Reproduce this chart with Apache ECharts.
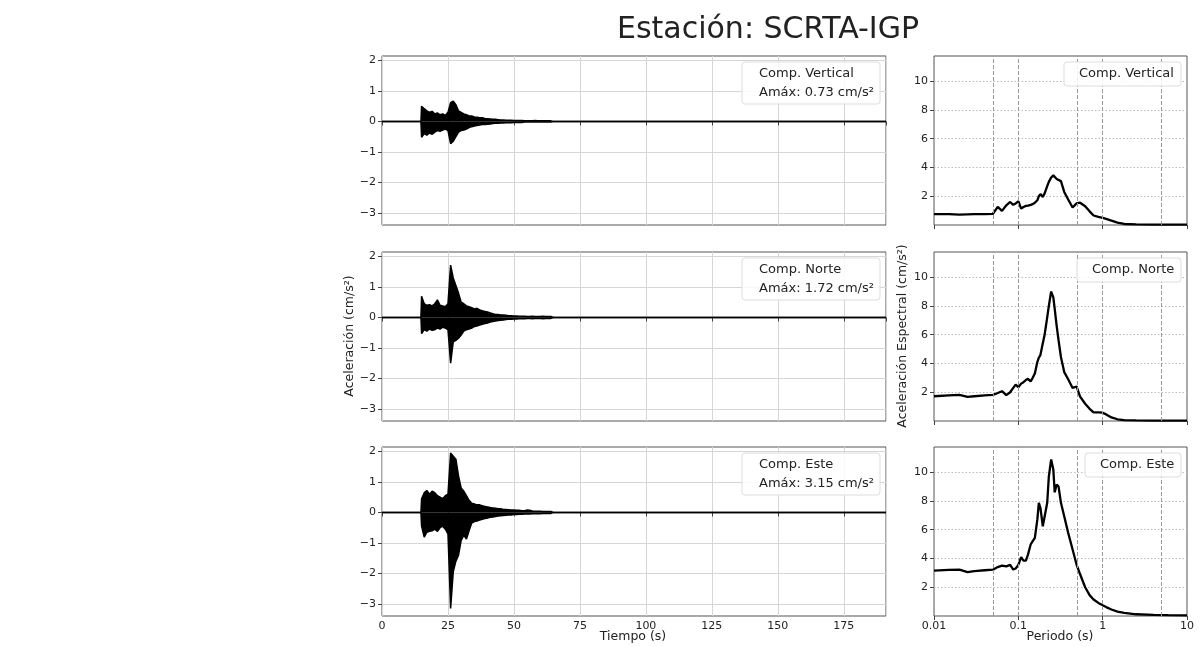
<!doctype html>
<html>
    <head>
        <meta charset="utf-8">
        <title>Estación SCRTA-IGP - ECHARTS</title>
        <style>
            html, body { margin: 0; padding: 0; background: #fff; }
            #main { width: 1200px; height: 647px; }
        </style>
    </head>
    <body>
        <div id="main"></div>
        <script src="https://cdn.jsdelivr.net/npm/echarts@6/dist/echarts.min.js"></script>
        <script>

            // --- registros de aceleracion: envolvente leida cada 1 s desde t = 15 s ---
            var T0 = 15;
            var STEP = 1;
            var T_END = 191;

            var vertUp = [0.50, 0.42, 0.35, 0.30, 0.33, 0.25, 0.28, 0.22, 0.25, 0.20,
                          0.30, 0.62, 0.67, 0.55, 0.35, 0.30, 0.25, 0.22, 0.18, 0.18,
                          0.15, 0.14, 0.12, 0.12, 0.10, 0.09, 0.08, 0.07, 0.07, 0.06,
                          0.05, 0.05, 0.04, 0.04, 0.04, 0.03, 0.03, 0.03, 0.03, 0.02,
                          0.02, 0.02, 0.02, 0.03, 0.02, 0.02, 0.02, 0.02, 0.02, 0.02];
            var vertDn = [-0.52, -0.40, -0.45, -0.38, -0.42, -0.35, -0.30, -0.32, -0.28, -0.25,
                          -0.30, -0.73, -0.65, -0.50, -0.35, -0.30, -0.28, -0.25, -0.20, -0.17,
                          -0.15, -0.13, -0.12, -0.10, -0.10, -0.09, -0.08, -0.07, -0.06, -0.06,
                          -0.05, -0.05, -0.04, -0.04, -0.04, -0.03, -0.03, -0.03, -0.03, -0.02,
                          -0.02, -0.02, -0.02, -0.02, -0.02, -0.02, -0.02, -0.02, -0.02, -0.02];

            var norteUp = [0.70, 0.45, 0.40, 0.42, 0.38, 0.45, 0.58, 0.40, 0.38, 0.35,
                           0.45, 1.72, 1.30, 1.05, 0.80, 0.50, 0.45, 0.38, 0.35, 0.32,
                           0.28, 0.30, 0.25, 0.22, 0.20, 0.18, 0.15, 0.12, 0.10, 0.10,
                           0.08, 0.08, 0.07, 0.06, 0.06, 0.05, 0.05, 0.04, 0.04, 0.04,
                           0.03, 0.03, 0.04, 0.03, 0.03, 0.03, 0.04, 0.03, 0.03, 0.03];
            var norteDn = [-0.53, -0.40, -0.45, -0.38, -0.42, -0.40, -0.35, -0.38, -0.32, -0.35,
                           -0.40, -1.50, -0.80, -0.75, -0.68, -0.58, -0.45, -0.40, -0.38, -0.35,
                           -0.30, -0.28, -0.25, -0.22, -0.20, -0.18, -0.15, -0.13, -0.12, -0.10,
                           -0.09, -0.08, -0.07, -0.06, -0.06, -0.05, -0.05, -0.04, -0.04, -0.04,
                           -0.03, -0.03, -0.04, -0.03, -0.03, -0.03, -0.04, -0.03, -0.03, -0.03];

            var esteUp = [0.45, 0.65, 0.72, 0.60, 0.70, 0.65, 0.55, 0.50, 0.45, 0.55,
                          0.60, 1.95, 1.85, 1.75, 1.20, 0.80, 0.70, 0.55, 0.40, 0.30,
                          0.28, 0.25, 0.25, 0.22, 0.20, 0.18, 0.16, 0.15, 0.14, 0.12,
                          0.12, 0.10, 0.10, 0.09, 0.08, 0.08, 0.07, 0.07, 0.06, 0.06,
                          0.08, 0.07, 0.05, 0.04, 0.04, 0.04, 0.03, 0.03, 0.03, 0.03];
            var esteDn = [-0.45, -0.81, -0.65, -0.62, -0.60, -0.55, -0.62, -0.50, -0.45, -0.55,
                          -0.70, -3.15, -1.95, -1.60, -1.40, -0.92, -0.75, -0.87, -0.60, -0.35,
                          -0.30, -0.28, -0.25, -0.22, -0.20, -0.18, -0.16, -0.15, -0.13, -0.12,
                          -0.11, -0.10, -0.09, -0.08, -0.08, -0.07, -0.07, -0.06, -0.06, -0.05,
                          -0.05, -0.05, -0.04, -0.04, -0.04, -0.04, -0.03, -0.03, -0.03, -0.03];

            // --- espectros de respuesta ---
            var periods = [0.01, 0.015, 0.02, 0.025, 0.03, 0.04, 0.05, 0.057, 0.064, 0.072,
                           0.08, 0.087, 0.093, 0.1, 0.108, 0.115, 0.123, 0.13, 0.14, 0.148,
                           0.157, 0.168, 0.175, 0.183, 0.195, 0.205, 0.22, 0.23, 0.245, 0.26,
                           0.27, 0.285, 0.3, 0.32, 0.35, 0.39, 0.44, 0.49, 0.54, 0.62,
                           0.7, 0.78, 0.89, 1.0, 1.1, 1.27, 1.5, 1.8, 2.5, 4, 6, 10];
            var saVert = [0.75, 0.76, 0.72, 0.74, 0.75, 0.75, 0.78, 1.26, 0.98, 1.37,
                          1.60, 1.40, 1.50, 1.65, 1.14, 1.25, 1.33, 1.35, 1.40, 1.45,
                          1.55, 1.72, 2.00, 2.15, 1.95, 2.20, 2.70, 3.00, 3.30, 3.45,
                          3.50, 3.20, 3.30, 3.05, 2.30, 1.77, 1.22, 1.50, 1.55, 1.30,
                          0.95, 0.66, 0.57, 0.50, 0.42, 0.30, 0.16, 0.07, 0.04, 0.03, 0.03, 0.03];
            var saNorte = [1.72, 1.78, 1.82, 1.68, 1.72, 1.78, 1.82, 1.95, 2.07, 1.80,
                           2.00, 2.30, 2.53, 2.35, 2.60, 2.70, 2.85, 2.93, 2.75, 3.00,
                           3.30, 4.10, 4.40, 4.60, 5.40, 6.00, 7.20, 8.00, 9.00, 8.60,
                           7.80, 6.60, 5.60, 4.45, 3.40, 2.90, 2.30, 2.40, 1.70, 1.20,
                           0.85, 0.60, 0.60, 0.58, 0.46, 0.25, 0.12, 0.06, 0.04, 0.03, 0.03, 0.03];
            var saEste = [3.15, 3.20, 3.22, 3.05, 3.12, 3.18, 3.22, 3.40, 3.50, 3.45,
                          3.55, 3.23, 3.30, 3.55, 4.10, 3.85, 3.85, 4.27, 4.97, 5.20,
                          5.43, 6.70, 7.87, 7.50, 6.24, 6.30, 7.87, 9.70, 10.88, 10.18,
                          8.60, 9.14, 9.00, 7.87, 6.94, 5.78, 4.62, 3.58, 2.90, 2.00,
                          1.45, 1.15, 0.91, 0.75, 0.62, 0.45, 0.30, 0.21, 0.12, 0.08, 0.06, 0.05];
            var markPeriods = [0.05, 0.1, 0.5, 1, 5];

            var compNames = ['Comp. Vertical', 'Comp. Norte', 'Comp. Este'];
            var amaxValues = ['0.73', '1.72', '3.15'];
            var accTicks = [-3, -2, -1, 0, 1, 2];
            var saTicks = [2, 4, 6, 8, 10];
            var timeTicks = 25;

            // envolvente (superior o inferior) del registro, con linea base en cero
            function envelope(vals) {
                var pts = [[0, 0], [T0 - STEP / 4, 0]];
                for (var i = 0; i < vals.length; i++) {
                    pts.push([T0 + i * STEP, vals[i]]);
                }
                pts.push([T0 + vals.length * STEP, 0]);
                pts.push([T_END, 0]);
                return pts;
            }
            function spectrum(vals) {
                return periods.map(function (p, i) { return [p, vals[i]]; });
            }

            var FONT = 'DejaVu Sans';
            var TXT = '#222';
            var tops = [56, 252, 447];
            var H = 169;

            var grids = [], xAxes = [], yAxes = [], series = [], graphics = [];
            var envUp = [envelope(vertUp), envelope(norteUp), envelope(esteUp)];
            var envDn = [envelope(vertDn), envelope(norteDn), envelope(esteDn)];
            var spectra = [spectrum(saVert), spectrum(saNorte), spectrum(saEste)];

            function minus(v) { return String(v).replace('-', '\u2212'); }

            for (var k = 0; k < 3; k++) {
                var last = (k === 2);
                // izquierda: registro temporal
                grids.push({ left: 382, top: tops[k], width: 504, height: H, show: true,
                    borderColor: '#555', borderWidth: 1, backgroundColor: '#fff' });
                xAxes.push({ type: 'value', gridIndex: 2 * k, min: 0, max: T_END, interval: timeTicks,
                    axisLine: { show: false },
                    axisTick: { show: true, length: 4, lineStyle: { color: '#444' } },
                    axisLabel: { show: last, margin: 5, fontFamily: FONT, fontSize: 11, color: TXT, showMaxLabel: false },
                    splitLine: { show: true, lineStyle: { color: '#d6d6d6', width: 1 } } });
                yAxes.push({ type: 'value', gridIndex: 2 * k, min: -3.4, max: 2.15, splitNumber: 5,
                    axisLine: { show: false },
                    axisTick: { show: true, length: 4, customValues: accTicks, lineStyle: { color: '#444' } },
                    axisLabel: { margin: 6, fontFamily: FONT, fontSize: 11, color: TXT, customValues: accTicks,
                        formatter: function (v) { return minus(Math.round(v)); } },
                    splitLine: { show: true, lineStyle: { color: '#d6d6d6', width: 1 } } });
                [envUp[k], envDn[k]].forEach(function (d) {
                    series.push({ type: 'line', xAxisIndex: 2 * k, yAxisIndex: 2 * k, data: d,
                        showSymbol: false, symbol: 'none', silent: true,
                        lineStyle: { color: '#000', width: 1.5 },
                        areaStyle: { color: '#000', opacity: 1, origin: 0 } });
                });

                // derecha: espectro
                grids.push({ left: 934, top: tops[k], width: 253, height: H, show: true,
                    borderColor: '#555', borderWidth: 1, backgroundColor: '#fff' });
                xAxes.push({ type: 'log', logBase: 10, gridIndex: 2 * k + 1, min: 0.01, max: 10,
                    axisLine: { show: false },
                    axisTick: { show: true, length: 4, lineStyle: { color: '#444' } },
                    axisLabel: { show: last, margin: 5, fontFamily: FONT, fontSize: 11, color: TXT,
                        formatter: function (v) { return String(+(+v).toPrecision(3)); } },
                    splitLine: { show: false } });
                yAxes.push({ type: 'value', gridIndex: 2 * k + 1, min: 0, max: 11.75, interval: 2,
                    axisLine: { show: false },
                    axisTick: { show: true, length: 4, customValues: saTicks, lineStyle: { color: '#444' } },
                    axisLabel: { margin: 6, fontFamily: FONT, fontSize: 11, color: TXT, customValues: saTicks },
                    splitLine: { show: true, lineStyle: { color: '#bbb', width: 1, type: [1.5, 2] } } });
                series.push({ type: 'line', xAxisIndex: 2 * k + 1, yAxisIndex: 2 * k + 1, data: spectra[k],
                    showSymbol: false, symbol: 'none', silent: true,
                    lineStyle: { color: '#000', width: 2.3 },
                    markLine: { silent: true, symbol: 'none', label: { show: false },
                        lineStyle: { color: '#999', width: 1, type: [4, 2] },
                        data: markPeriods.map(function (p) { return { xAxis: p }; }) } });

                // leyendas
                var boxTop = tops[k] + 6;
                graphics.push({ type: 'rect', shape: { x: 742, y: boxTop, width: 138, height: 42, r: 3 },
                    style: { fill: 'rgba(255,255,255,0.85)', stroke: '#ddd', lineWidth: 1 }, z: 10 });
                graphics.push({ type: 'text', x: 759, y: boxTop + 12, z: 11,
                    style: { text: compNames[k], fill: TXT, font: '13px "' + FONT + '"', textVerticalAlign: 'middle' } });
                graphics.push({ type: 'text', x: 759, y: boxTop + 31, z: 11,
                    style: { text: 'Amáx: ' + amaxValues[k] + ' cm/s\u00b2', fill: TXT, font: '13px "' + FONT + '"', textVerticalAlign: 'middle' } });

                var rw = [117, 104, 96][k];
                graphics.push({ type: 'rect', shape: { x: 1181 - rw, y: boxTop, width: rw, height: 24, r: 3 },
                    style: { fill: 'rgba(255,255,255,0.85)', stroke: '#ddd', lineWidth: 1 }, z: 10 });
                graphics.push({ type: 'text', x: 1181 - rw + 15, y: boxTop + 12, z: 11,
                    style: { text: compNames[k], fill: TXT, font: '13px "' + FONT + '"', textVerticalAlign: 'middle' } });
            }

            graphics.push({ type: 'text', x: 768, y: 30, style: { text: 'Estación: SCRTA-IGP', fill: TXT,
                font: '30px "' + FONT + '"', textAlign: 'center', textVerticalAlign: 'middle' } });
            graphics.push({ type: 'text', x: 633, y: 637, style: { text: 'Tiempo (s)', fill: TXT,
                font: '12.5px "' + FONT + '"', textAlign: 'center', textVerticalAlign: 'middle' } });
            graphics.push({ type: 'text', x: 1060, y: 637, style: { text: 'Periodo (s)', fill: TXT,
                font: '12.5px "' + FONT + '"', textAlign: 'center', textVerticalAlign: 'middle' } });
            graphics.push({ type: 'text', x: 350, y: 336, rotation: Math.PI / 2, style: { text: 'Aceleración (cm/s\u00b2)', fill: TXT,
                font: '12.5px "' + FONT + '"', textAlign: 'center', textVerticalAlign: 'middle' } });
            graphics.push({ type: 'text', x: 903, y: 336, rotation: Math.PI / 2, style: { text: 'Aceleración Espectral (cm/s\u00b2)', fill: TXT,
                font: '12.5px "' + FONT + '"', textAlign: 'center', textVerticalAlign: 'middle' } });

            var myChart = echarts.init(document.getElementById('main'));
            myChart.setOption({
                animation: false,
                backgroundColor: '#fff',
                grid: grids,
                xAxis: xAxes,
                yAxis: yAxes,
                series: series,
                graphic: graphics
            });

        </script>
    </body>
</html>
